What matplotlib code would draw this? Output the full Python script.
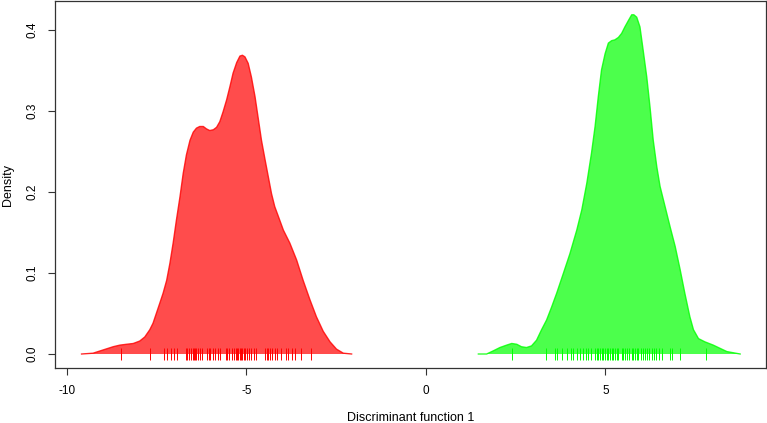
import numpy as np
import matplotlib
matplotlib.use("Agg")
import matplotlib.pyplot as plt

# density curves (x, density)
red_x = [-9.59, -9.27, -8.99, -8.71, -8.52, -8.34, -8.15, -7.97, -7.83, -7.69,
         -7.60, -7.41, -7.32, -7.22, -7.13, -7.04, -6.95, -6.85, -6.76, -6.67,
         -6.57, -6.48, -6.39, -6.30, -6.20, -6.11, -6.02, -5.92, -5.83, -5.74,
         -5.65, -5.55, -5.46, -5.37, -5.27, -5.18, -5.11, -5.04, -4.95, -4.86,
         -4.76, -4.67, -4.58, -4.48, -4.39, -4.30, -4.21, -4.11, -3.97, -3.79,
         -3.60, -3.42, -3.23, -3.05, -2.86, -2.67, -2.49, -2.30, -2.07]
red_y = [0.000, 0.001, 0.005, 0.009, 0.011, 0.012, 0.013, 0.016, 0.021, 0.030,
         0.038, 0.063, 0.075, 0.091, 0.112, 0.137, 0.165, 0.194, 0.223, 0.246,
         0.264, 0.274, 0.279, 0.281, 0.281, 0.278, 0.276, 0.277, 0.280, 0.287,
         0.299, 0.314, 0.330, 0.347, 0.360, 0.368, 0.369, 0.367, 0.359, 0.342,
         0.318, 0.291, 0.264, 0.240, 0.219, 0.198, 0.182, 0.170, 0.153, 0.137,
         0.116, 0.091, 0.067, 0.046, 0.028, 0.015, 0.006, 0.001, 0.000]

green_x = [1.46, 1.69, 1.88, 2.06, 2.25, 2.39, 2.53, 2.66, 2.80, 2.94,
           3.08, 3.22, 3.36, 3.50, 3.64, 3.83, 4.01, 4.20, 4.34, 4.48,
           4.61, 4.71, 4.80, 4.89, 4.99, 5.08, 5.17, 5.26, 5.36, 5.45,
           5.54, 5.64, 5.73, 5.79, 5.87, 5.96, 6.05, 6.15, 6.24, 6.33,
           6.43, 6.52, 6.66, 6.80, 6.94, 7.08, 7.21, 7.35, 7.45, 7.59,
           7.77, 8.00, 8.19, 8.38, 8.75]
green_y = [0.000, 0.000, 0.004, 0.008, 0.011, 0.013, 0.012, 0.009, 0.008, 0.010,
           0.017, 0.030, 0.042, 0.058, 0.075, 0.100, 0.124, 0.153, 0.178, 0.211,
           0.248, 0.281, 0.318, 0.351, 0.371, 0.384, 0.387, 0.388, 0.391, 0.396,
           0.404, 0.412, 0.419, 0.419, 0.416, 0.404, 0.375, 0.342, 0.305, 0.264,
           0.231, 0.207, 0.182, 0.157, 0.133, 0.104, 0.075, 0.046, 0.030, 0.019,
           0.015, 0.011, 0.007, 0.003, 0.000]

# individual scores (rug)
red_rug = [-8.48, -7.68, -7.29, -7.21, -7.10, -7.01, -6.92, -6.69, -6.66, -6.59,
           -6.55, -6.50, -6.46, -6.43, -6.39, -6.34, -6.30, -6.25, -6.11, -6.05,
           -6.00, -5.94, -5.88, -5.80, -5.74, -5.57, -5.53, -5.49, -5.41, -5.35,
           -5.29, -5.26, -5.22, -5.18, -5.14, -5.11, -5.07, -5.03, -4.98, -4.92,
           -4.86, -4.79, -4.72, -4.48, -4.44, -4.39, -4.35, -4.30, -4.21, -4.14,
           -4.04, -3.90, -3.84, -3.74, -3.65, -3.49, -3.21]
green_rug = [2.39, 3.34, 3.59, 3.66, 3.80, 3.92, 4.03, 4.09, 4.21, 4.29,
             4.36, 4.46, 4.52, 4.59, 4.71, 4.75, 4.80, 4.85, 4.89, 4.94,
             4.99, 5.03, 5.08, 5.13, 5.17, 5.22, 5.26, 5.31, 5.36, 5.45,
             5.50, 5.54, 5.61, 5.66, 5.73, 5.77, 5.82, 5.87, 5.91, 5.98,
             6.04, 6.10, 6.16, 6.22, 6.29, 6.35, 6.41, 6.50, 6.57, 6.80,
             6.84, 7.08, 7.80]

plt.rcParams['font.family'] = ['Liberation Sans', 'DejaVu Sans']
plt.rcParams['axes.unicode_minus'] = False

fig = plt.figure(figsize=(7.67, 4.23), dpi=100)
ax = fig.add_axes([0.0717, 0.130, 0.927, 0.8676])

ax.fill(red_x, red_y, color='red', alpha=0.7, lw=0)
ax.plot(red_x, red_y, color='red', alpha=0.8, lw=1)
ax.fill(green_x, green_y, color='#00ff00', alpha=0.7, lw=0)
ax.plot(green_x, green_y, color='#00ff00', alpha=0.8, lw=1)

ax.plot(red_rug, np.zeros(len(red_rug)), ls='none', marker='|', ms=8, mew=0.7, color='red')
ax.plot(green_rug, np.zeros(len(green_rug)), ls='none', marker='|', ms=8, mew=0.7, color='#00ff00')

ax.set_xlim(-10.33, 9.47)
ax.set_ylim(-0.0173, 0.436)
ax.set_xticks([-10, -5, 0, 5])
ax.set_yticks([0.0, 0.1, 0.2, 0.3, 0.4])
ax.set_yticklabels(['0.0', '0.1', '0.2', '0.3', '0.4'], rotation=90, va='center')
ax.tick_params(length=5, width=0.8, pad=7, labelsize=8.5, color='#333333')
for s in ax.spines.values():
    s.set_color('#333333')
    s.set_linewidth(0.9)

ax.set_xlabel('Discriminant function 1', fontsize=9, labelpad=11)
ax.set_ylabel('Density', fontsize=9, labelpad=9)

fig.savefig('out.png', dpi=100)
